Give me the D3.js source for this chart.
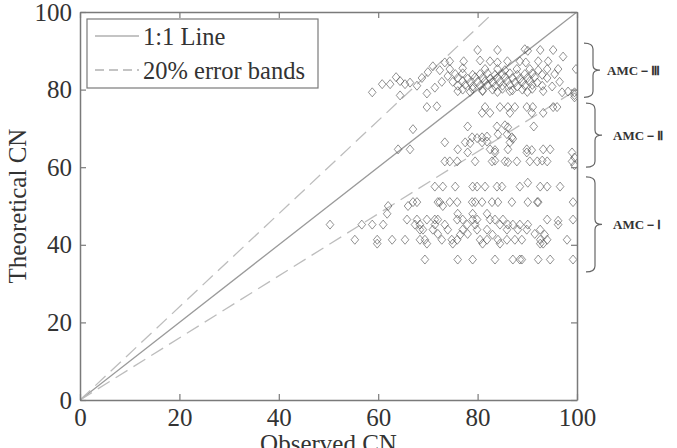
<!DOCTYPE html>
<html>
<head>
<meta charset="utf-8">
<script src="https://cdn.jsdelivr.net/npm/d3@7"></script>
<style>
  body { margin: 0; background: #fff; }
  svg text { font-family: "Liberation Serif", "Times New Roman", serif; fill: #333; }
</style>
</head>
<body>
<div id="chart"></div>
<script>
// tick values
var xTicks = [0, 20, 40, 60, 80, 100];
var yTicks = [0, 20, 40, 60, 80, 100];

// observed CN vs theoretical CN, [observed, theoretical]
var amc3Points = [
  [58.8,79.3],[60.8,81.4],[62.4,81.4],[63.6,83.2],[64.4,82.2],[65.4,81.4],[64.4,78.5],[66.4,81.8],
  [67.8,81],[68.8,83],[70,84.5],[71,86],[72.4,85],[73.4,87],[69.8,79],[71.4,80.5],[72.8,82],[74,83.5],
  [80,90.2],[84,90.2],[89.5,90.4],[90.1,90],[92.6,90.2],[95.2,90.2],
  [74.4,87.3],[77.2,87.3],[80.5,87.5],[82.5,87.3],[84,87],[86,87.3],[88.5,87.3],[89.7,87],[92.2,87.3],[94.2,87.3],[97.2,88.5],
  [74.4,85.3],[77,85.5],[81.5,85.3],[84,85.3],[85.5,85],[87.9,85.3],[90.5,85.3],[92.2,85],[94,85.3],[96.2,85.3],[99.8,85.3],
  [75.5,84],[77,84.2],[79,83.8],[80.5,84],[82,84.2],[83.5,83.8],[85,84],[86.5,84.2],[88,83.8],[89.5,84],[91,84.2],[93,83.8],[95.5,84],
  [76,83],[78,82.8],[79.5,83.2],[81,83],[82.5,82.8],[84,83],[85.5,83.2],[87,83],[88.5,82.8],[90,83],[91.5,83.2],[94,83],
  [75,82],[77,82.2],[78.5,81.8],[80,82],[81.5,82.2],[83,81.8],[84.5,82],[86,82.2],[87.5,81.8],[89,82],[90.5,82.2],[92,81.8],[96.5,82],
  [76,81],[77.5,81.2],[79,80.8],[80.5,81],[82,81.2],[83.5,80.8],[85,81],[86.5,81.2],[88,80.8],[89.5,81],[91,81.2],[93,81],[95,80.8],
  [77,80],[79,80.2],[81,79.8],[83,80],[85,80.2],[87,79.8],[89,80],[91,80.2],
  [76,79.6],[78.5,79.4],[81,79.6],[84,79.4],[86.5,79.6],[90,79.4],[93.2,79.6],[97,79.3],[98.2,79.5],
  [99.5,79.3],[99.5,78.6],[99.5,78]
];

var amc2Points = [
  [69.8,75.5],[71.8,75.7],[81.5,75.5],[84.5,75.5],[86.1,75.5],[87.5,75.5],[89.9,75.5],[91.1,75.5],[95.2,75.5],[96,75.5],
  [80.9,74],[82.5,74],[86.5,74],[90.9,74],[93.2,74],
  [67,69.8],[78,70.5],[83.9,70.5],[85.5,70.8],[86.1,70.3],[91.3,70.5],
  [84.1,68.5],[85.9,68.5],
  [78.9,67.7],[79.9,67.5],[80.9,67.7],[81.9,67.9],[86.9,67.7],[87.1,67.3],
  [73.4,66.4],[77.5,66.4],[78.5,66.2],[80.9,66.4],[81.9,66.6],[86.5,66.4],
  [64,64.6],[66.4,64.6],[76,64.6],[82.5,64.6],[83.5,64.4],[86.1,64.6],[89.9,64.6],[90.9,64.4],[93.2,64.6],[94.6,64.6],
  [78,63.8],[83.5,63.8],[89.9,63.8],[99,63.8],
  [73.4,61.5],[74.4,61.5],[75.9,61.5],[79.5,61.5],[82.9,61.5],[83.5,61.7],[85.5,61.5],[86.1,61.3],[87.9,61.5],
  [90.5,61.5],[92,61.5],[93,61.7],[94,61.5],[99,61.5],
  [99.5,62.5],[99.5,60.5]
];

var amc1Points = [
  [71.4,55],[73,55],[75.5,55],[79,55],[79.9,55],[81.5,55],[83.9,55],[84.9,55],[88.5,55],[90.1,56],[92.6,55],[94,55],[96.6,55],
  [67,51],[67.8,51],[72,51],[72.4,51],[74.4,51],[75.9,51],[78.9,51],[79.5,51],[80.9,51],[82.9,51],[84.1,51],[86.9,51],
  [90.1,51],[92,51],[92.2,51],[99.2,51],
  [62,50],[66,50],[73,50],
  [61.8,48],[76,48],[79,48],[81.9,48],
  [65.8,46.5],[67.8,46.5],[69.8,46.5],[71.4,46.5],[72,46.5],[75.9,46.5],[77,46.5],[79,46.5],[79.9,46.5],[82.5,46.5],
  [83.5,46.5],[85.1,46.5],[94,46.5],[96.2,46.2],[99.2,46.5],
  [50.3,45.2],[56.7,45.2],[58.8,45.2],[61,45.2],[67.4,45.2],[68.4,45.2],[71.4,45.2],[73.4,45.2],[77.9,45.2],[79.5,45.2],
  [84.5,45.2],[86.1,45.2],[87.1,45.2],[88.5,45.2],[90.1,45.2],[96.2,45.2],
  [68.4,43.9],[69,43.9],[71,43.9],[74,43.9],[77,43.9],[79.9,43.9],[81.9,43.9],[85.9,43.9],[88.1,43.9],[89.9,43.9],[92.6,43.9],
  [72,42.8],[76.5,42.6],[78,42.8],[83,42.6],[91.5,42.8],[93.5,42.6],
  [55.3,41.3],[59.8,41.3],[62.8,41.3],[65.4,41.3],[68.4,41.3],[69.4,41.3],[72.8,41.3],[74.8,41.3],[75.9,41.3],[80.5,41.3],
  [81.9,41.3],[84.1,41.3],[85.9,41.3],[87.5,41.3],[88.9,41.3],[92.6,41.3],[94,41.3],[98,41.3],
  [59.8,40.3],[69.8,40.3],[75,40.3],[81,40.3],[84.5,40.3],[92.6,40.3],[93.2,40.3],
  [69.4,36.2],[76,36.2],[79,36.2],[83.5,36.2],[87.1,36.2],[88.5,36.2],[88.9,36.2],[92.2,36.2],[94.6,36.2],[99.2,36.2]
];

// AMC groups: label and theoretical CN span of the brace
var groupLabels = ["AMC－Ⅲ", "AMC－Ⅱ", "AMC－Ⅰ"];
var groupSpans = [[78, 92], [60, 76.5], [33, 57.5]];

// reference lines: slope of 1:1 line and the 20% error bands
var lineSlopes = [1, 1.2, 0.8];

var width = 677, height = 448;
var margin = { top: 12, right: 100, bottom: 48, left: 80 };

var svg = d3.select("#chart").append("svg")
  .attr("width", width)
  .attr("height", height);

var x = d3.scaleLinear().domain([0, 100]).range([margin.left, width - margin.right]);
var y = d3.scaleLinear().domain([0, 100]).range([height - margin.bottom, margin.top]);

var axisColor = "#7a7a7a";

// clip to plot area
svg.append("clipPath").attr("id", "plotclip")
  .append("rect")
  .attr("x", x(0)).attr("y", y(100))
  .attr("width", x(100) - x(0)).attr("height", y(0) - y(100));

var plot = svg.append("g").attr("clip-path", "url(#plotclip)");

// 1:1 line and the error bands
plot.selectAll("line.ref")
  .data(lineSlopes)
  .enter()
  .append("line")
  .attr("class", "ref")
  .attr("x1", x(0)).attr("y1", y(0))
  .attr("x2", x(100))
  .attr("y2", d => y(100 * d))
  .attr("stroke", d => d === 1 ? "#9a9a9a" : "#bdbdbd")
  .attr("stroke-width", 1.3)
  .attr("stroke-dasharray", d => d === 1 ? null : "14,7");

// diamonds
var diamond = "M0,-4.5L3.8,0L0,4.5L-3.8,0Z";
var allPoints = amc3Points.concat(amc2Points, amc1Points);
plot.selectAll("path.pt")
  .data(allPoints)
  .enter()
  .append("path")
  .attr("class", "pt")
  .attr("d", diamond)
  .attr("transform", d => `translate(${x(d[0])},${y(d[1])})`)
  .attr("fill", "none")
  .attr("stroke", "#4a4a4a")
  .attr("stroke-opacity", 0.6)
  .attr("stroke-width", 1);

// axes with inward ticks on all four sides
function styleAxis(g) {
  g.select(".domain").attr("stroke", axisColor).attr("stroke-width", 1.5);
  g.selectAll(".tick line").attr("stroke", axisColor).attr("stroke-width", 1.2);
}

svg.append("g")
  .attr("transform", `translate(0,${y(0)})`)
  .call(d3.axisBottom(x).tickValues(xTicks).tickSizeInner(-6).tickSizeOuter(0).tickPadding(8))
  .call(styleAxis)
  .call(g => g.selectAll("text").attr("font-size", 25).attr("fill", "#333")
    .attr("font-family", "Liberation Serif"));

svg.append("g")
  .attr("transform", `translate(${x(0)},0)`)
  .call(d3.axisLeft(y).tickValues(yTicks).tickSizeInner(-6).tickSizeOuter(0).tickPadding(8))
  .call(styleAxis)
  .call(g => g.selectAll("text").attr("font-size", 25).attr("fill", "#333")
    .attr("font-family", "Liberation Serif"));

svg.append("g")
  .attr("transform", `translate(0,${y(100)})`)
  .call(d3.axisTop(x).tickValues(xTicks).tickSizeInner(-6).tickSizeOuter(0).tickFormat(""))
  .call(styleAxis);

svg.append("g")
  .attr("transform", `translate(${x(100)},0)`)
  .call(d3.axisRight(y).tickValues(yTicks).tickSizeInner(-6).tickSizeOuter(0).tickFormat(""))
  .call(styleAxis);

// axis titles (x title is cut by the bottom edge, as in the original)
svg.append("text")
  .attr("x", (x(0) + x(100)) / 2)
  .attr("y", 452)
  .attr("text-anchor", "middle")
  .attr("font-size", 25)
  .text("Observed CN");

svg.append("text")
  .attr("transform", `translate(26,${(y(0) + y(100)) / 2}) rotate(-90)`)
  .attr("text-anchor", "middle")
  .attr("font-size", 25)
  .text("Theoretical CN");

// legend
var legend = svg.append("g").attr("transform", "translate(87,19)");
legend.append("rect")
  .attr("width", 231).attr("height", 69)
  .attr("fill", "#fff")
  .attr("stroke", axisColor).attr("stroke-width", 1.2);
var legendItems = ["1:1 Line", "20% error bands"];
legendItems.forEach(function (label, i) {
  var ly = 17 + i * 34;
  legend.append("line")
    .attr("x1", 8).attr("x2", 52)
    .attr("y1", ly).attr("y2", ly)
    .attr("stroke", "#8a8a8a").attr("stroke-width", 1.2)
    .attr("stroke-dasharray", i === 0 ? null : "9,5");
  legend.append("text")
    .attr("x", 56).attr("y", ly)
    .attr("dy", "0.35em")
    .attr("font-size", 24.5)
    .text(label);
});

// braces for the AMC groups
function bracePath(bx, y1, y2) {
  var xm = bx + 9, ym = (y1 + y2) / 2;
  return `M${bx},${y1} Q${xm},${y1} ${xm},${y1 + 6} L${xm},${ym - 5} Q${xm},${ym} ${bx + 16},${ym}`
    + ` Q${xm},${ym} ${xm},${ym + 5} L${xm},${y2 - 6} Q${xm},${y2} ${bx},${y2}`;
}
groupLabels.forEach(function (label, i) {
  var y1 = y(groupSpans[i][1]), y2 = y(groupSpans[i][0]);
  var bx = i === 0 ? 584 : 586;
  svg.append("path")
    .attr("d", bracePath(bx, y1, y2))
    .attr("fill", "none")
    .attr("stroke", "#666")
    .attr("stroke-width", 1.2);
  svg.append("text")
    .attr("x", bx + 23 + (i === 0 ? 0 : 4))
    .attr("y", (y1 + y2) / 2)
    .attr("dy", "0.35em")
    .attr("font-size", 13)
    .attr("font-weight", "bold")
    .attr("font-family", "'Noto Sans CJK SC', 'Liberation Serif', serif")
    .text(label);
});
</script>
</body>
</html>
